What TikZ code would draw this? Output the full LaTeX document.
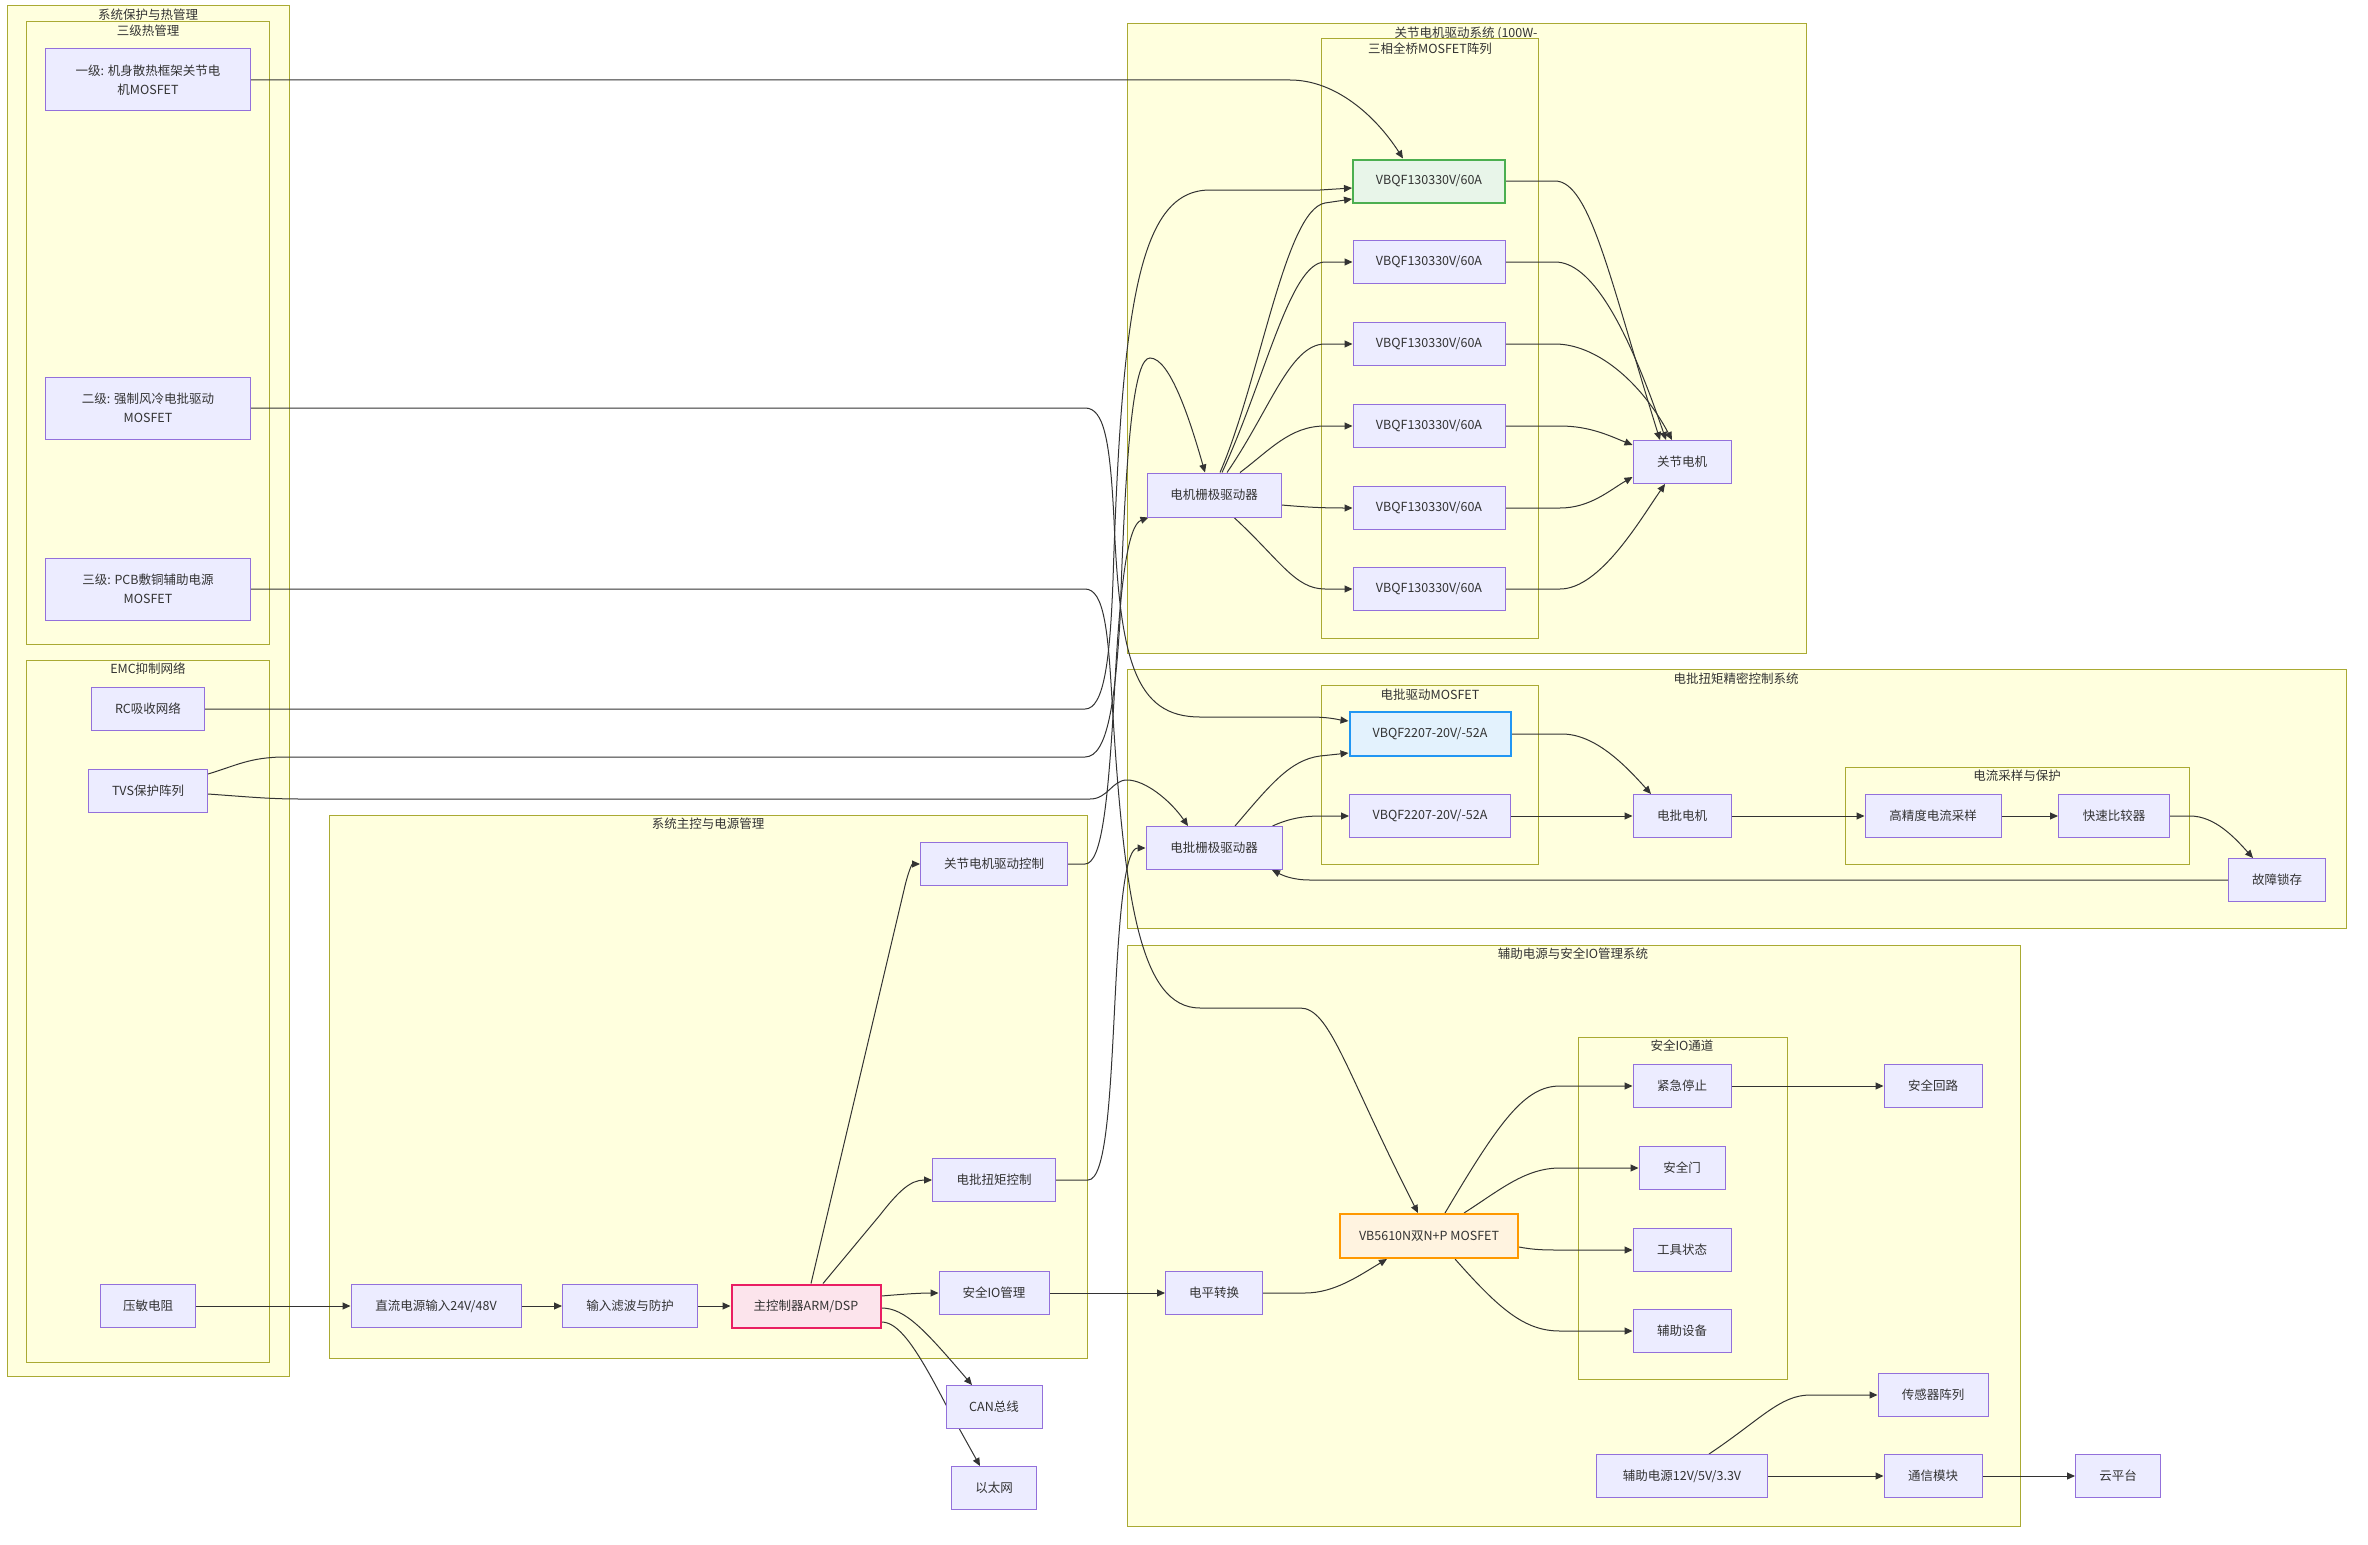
\documentclass[tikz,border=0pt]{standalone}
\usepackage{fontspec}
\setmainfont{Noto Sans CJK SC}
\usetikzlibrary{arrows.meta}
\definecolor{clfill}{HTML}{FFFFDE}
\definecolor{clline}{HTML}{AAAA33}
\definecolor{nfill}{HTML}{ECECFF}
\definecolor{nline}{HTML}{9370DB}
\definecolor{txt}{HTML}{333333}
\definecolor{gfill}{HTML}{E8F5E9}
\definecolor{gline}{HTML}{4CAF50}
\definecolor{bfill}{HTML}{E3F2FD}
\definecolor{bline}{HTML}{2196F3}
\definecolor{ofill}{HTML}{FFF3E0}
\definecolor{oline}{HTML}{FF9800}
\definecolor{pfill}{HTML}{FCE4EC}
\definecolor{pline}{HTML}{E91E63}
\newcommand{\myfs}{\fontsize{12.5}{19}\selectfont}
\pgfdeclarelayer{bg}
\pgfdeclarelayer{edges}
\pgfsetlayers{bg,edges,main}
\tikzset{
  box/.style={draw=nline, fill=nfill, line width=1pt, minimum height=43pt, inner sep=2pt, text=txt, font=\myfs, align=center},
  tall/.style={minimum height=62pt},
  hlgreen/.style={draw=gline, fill=gfill, line width=2pt},
  hlblue/.style={draw=bline, fill=bfill, line width=2pt},
  hlorange/.style={draw=oline, fill=ofill, line width=2pt},
  hlpink/.style={draw=pline, fill=pfill, line width=2pt},
  clus/.style={draw=clline, fill=clfill, line width=1pt},
  ctitle/.style={text=txt, font=\myfs, inner sep=0pt},
  conn/.style={draw=txt, line width=1pt, -{Triangle[length=8pt,width=7pt]}},
}
\begin{document}
\begin{tikzpicture}[x=1pt,y=-1pt]
\useasboundingbox (0,0) rectangle (2368,1544);
% ---------- clusters ----------
\begin{pgfonlayer}{bg}
\fill[white] (0,0) rectangle (2368,1544);
\draw[clus] (7,6) rectangle (289,1376);
\node[ctitle] (tProt) at (148,15) {系统保护与热管理};
\draw[clus] (26,22) rectangle (269,644);
\node[ctitle] (tHeat) at (148,31) {三级热管理};
\draw[clus] (26,660) rectangle (269,1362);
\node[ctitle] (tEmc) at (148,669) {EMC抑制网络};
\draw[clus] (329,815) rectangle (1087,1358);
\node[ctitle] (tMain) at (708,824) {系统主控与电源管理};
\draw[clus] (1127,24) rectangle (1806,653);
\node[ctitle] (tJoint) at (1466,33) {关节电机驱动系统 (100W-};
\draw[clus] (1321,39) rectangle (1538,638);
\node[ctitle] (tBridge) at (1430,49) {三相全桥MOSFET阵列};
\draw[clus] (1127,669) rectangle (2346,928);
\node[ctitle] (tScrew) at (1736,679) {电批扭矩精密控制系统};
\draw[clus] (1321,685) rectangle (1538,864);
\node[ctitle] (tSmos) at (1430,695) {电批驱动MOSFET};
\draw[clus] (1845,767) rectangle (2189,864);
\node[ctitle] (tSample) at (2017,776) {电流采样与保护};
\draw[clus] (1127,945) rectangle (2020,1526);
\node[ctitle] (tAux) at (1573,954) {辅助电源与安全IO管理系统};
\draw[clus] (1578,1037) rectangle (1787,1379);
\node[ctitle] (tSafe) at (1682,1046) {安全IO通道};
\end{pgfonlayer}
% ---------- nodes ----------
\node[box, tall, minimum width=205pt] (T1) at (148,80) {一级: 机身散热框架关节电\\机MOSFET};
\node[box, tall, minimum width=205pt] (T2) at (148,408) {二级: 强制风冷电批驱动\\MOSFET};
\node[box, tall, minimum width=205pt] (T3) at (148,589) {三级: PCB敷铜辅助电源\\MOSFET};
\node[box, minimum width=113pt] (RC) at (148,709) {RC吸收网络};
\node[box, minimum width=119pt] (TVS) at (148,791) {TVS保护阵列};
\node[box, minimum width=95pt] (VAR) at (148,1306) {压敏电阻};
\node[box, minimum width=170pt] (DC) at (436,1306) {直流电源输入24V/48V};
\node[box, minimum width=135pt] (FIL) at (630,1306) {输入滤波与防护};
\node[box, hlpink, minimum width=149pt] (MCU) at (806,1306) {主控制器ARM/DSP};
\node[box, minimum width=147pt] (JMC) at (994,864) {关节电机驱动控制};
\node[box, minimum width=123pt] (SDC) at (994,1180) {电批扭矩控制};
\node[box, minimum width=110pt] (SIO) at (994,1293) {安全IO管理};
\node[box, minimum width=96pt] (CAN) at (994,1407) {CAN总线};
\node[box, minimum width=85pt] (ETH) at (994,1488) {以太网};
\node[box, hlgreen, minimum width=152pt] (Q1) at (1429,181) {VBQF130330V/60A};
\node[box, minimum width=152pt] (Q2) at (1429,262) {VBQF130330V/60A};
\node[box, minimum width=152pt] (Q3) at (1429,344) {VBQF130330V/60A};
\node[box, minimum width=152pt] (Q4) at (1429,426) {VBQF130330V/60A};
\node[box, minimum width=152pt] (Q5) at (1429,508) {VBQF130330V/60A};
\node[box, minimum width=152pt] (Q6) at (1429,589) {VBQF130330V/60A};
\node[box, minimum width=134pt, minimum height=44pt] (MGD) at (1214,495) {电机栅极驱动器};
\node[box, minimum width=98pt] (JM) at (1682,462) {关节电机};
\node[box, hlblue, minimum width=161pt, minimum height=44pt] (S1) at (1430,734) {VBQF2207-20V/-52A};
\node[box, minimum width=161pt] (S2) at (1430,816) {VBQF2207-20V/-52A};
\node[box, minimum width=136pt] (SGD) at (1214,848) {电批栅极驱动器};
\node[box, minimum width=98pt] (SM) at (1682,816) {电批电机};
\node[box, minimum width=136pt] (CS) at (1933,816) {高精度电流采样};
\node[box, minimum width=111pt] (CMP) at (2114,816) {快速比较器};
\node[box, minimum width=97pt] (FL) at (2277,880) {故障锁存};
\node[box, hlorange, minimum width=178pt, minimum height=44pt] (VB) at (1429,1236) {VB5610N双N+P MOSFET};
\node[box, minimum width=97pt] (LS) at (1214,1293) {电平转换};
\node[box, minimum width=98pt] (ES) at (1682,1086) {紧急停止};
\node[box, minimum width=86pt] (SG) at (1682,1168) {安全门};
\node[box, minimum width=98pt] (TS) at (1682,1250) {工具状态};
\node[box, minimum width=98pt] (AD) at (1682,1331) {辅助设备};
\node[box, minimum width=98pt] (SL) at (1933,1086) {安全回路};
\node[box, minimum width=110pt] (SA) at (1933,1395) {传感器阵列};
\node[box, minimum width=171pt] (AUX) at (1682,1476) {辅助电源12V/5V/3.3V};
\node[box, minimum width=98pt] (COM) at (1933,1476) {通信模块};
\node[box, minimum width=85pt] (CLOUD) at (2118,1476) {云平台};
% ---------- connectors ----------
\begin{pgfonlayer}{edges}
\draw[conn] (T1.east) -- (1290,80) .. controls (1335,80) and (1375,115) .. ([xshift=-26pt]Q1.north);
\draw[conn] (T2.east) -- (1085,408) .. controls (1104,408) and (1110,440) .. (1114,520) .. controls (1120,660) and (1135,717) .. (1200,717) -- (1310,717) .. controls (1330,717) and (1340,720) .. ([yshift=13pt]S1.west);
\draw[conn] (T3.east) -- (1085,589) .. controls (1104,589) and (1108,630) .. (1112,700) .. controls (1124,900) and (1140,1008) .. (1200,1008) -- (1300,1008) .. controls (1330,1008) and (1345,1070) .. ([xshift=-11pt]VB.north);
\draw[conn] (RC.east) -- (1085,709) .. controls (1104,709) and (1110,660) .. (1113,580) .. controls (1122,300) and (1140,190) .. (1210,190) -- (1320,190) -- ([yshift=-7pt]Q1.west);
\draw[conn] ([yshift=17pt]TVS.east) .. controls (235,766) and (250,757) .. (285,757) -- (1085,757) .. controls (1108,757) and (1115,700) .. (1120,620) .. controls (1126,430) and (1135,358) .. (1150,358) .. controls (1170,358) and (1190,420) .. ([xshift=-9pt]MGD.north);
\draw[conn] ([yshift=-3pt]TVS.east) .. controls (250,797) and (270,799) .. (300,799) -- (1090,799) .. controls (1108,799) and (1112,780) .. (1127,780) .. controls (1145,780) and (1170,800) .. ([xshift=-26pt]SGD.north);
\draw[conn] (JMC.east) -- (1085,864) .. controls (1102,864) and (1108,800) .. (1114,700) .. controls (1120,580) and (1128,525) .. ([xshift=2pt]MGD.south west);
\draw[conn] (SDC.east) -- (1088,1180) .. controls (1106,1180) and (1110,1100) .. (1115,1000) .. controls (1120,900) and (1126,848) .. (SGD.west);
% gate driver to bridge
\draw[conn] ([xshift=6pt]MGD.north) .. controls (1260,380) and (1285,210) .. (1325,203) -- ([yshift=-18pt]Q1.west);
\draw[conn] ([xshift=8pt]MGD.north) .. controls (1265,380) and (1290,262) .. (1325,262) -- (Q2.west);
\draw[conn] ([xshift=13pt]MGD.north) .. controls (1270,410) and (1290,344) .. (1325,344) -- (Q3.west);
\draw[conn] ([xshift=26pt]MGD.north) .. controls (1270,450) and (1290,426) .. (1325,426) -- (Q4.west);
\draw[conn] ([yshift=-10pt]MGD.east) .. controls (1305,507) and (1320,508) .. (Q5.west);
\draw[conn] ([xshift=20pt]MGD.south) .. controls (1280,560) and (1295,589) .. (1325,589) -- (Q6.west);
% bridge to motor
\draw[conn] (Q1.east) -- (1555,181) .. controls (1590,181) and (1610,280) .. ([xshift=-22pt]JM.north);
\draw[conn] (Q2.east) -- (1555,262) .. controls (1590,262) and (1625,320) .. ([xshift=-16pt]JM.north);
\draw[conn] (Q3.east) -- (1555,344) .. controls (1595,344) and (1640,380) .. ([xshift=-10pt]JM.north);
\draw[conn] (Q4.east) -- (1560,426) .. controls (1590,426) and (1610,436) .. ([yshift=17pt]JM.west);
\draw[conn] (Q5.east) -- (1560,508) .. controls (1590,508) and (1610,490) .. ([yshift=-15pt]JM.west);
\draw[conn] (Q6.east) -- (1560,589) .. controls (1600,589) and (1640,520) .. ([xshift=-17pt]JM.south);
% screwdriver
\draw[conn] ([xshift=21pt]SGD.north) .. controls (1270,785) and (1290,760) .. (1320,756) -- ([yshift=-19pt]S1.west);
\draw[conn] ([xshift=-10pt]SGD.north east) .. controls (1290,818) and (1305,816) .. (1320,816) -- (S2.west);
\draw[conn] (S1.east) -- (1562,734) .. controls (1595,734) and (1625,765) .. ([xshift=-31pt]SM.north);
\draw[conn] (S2.east) -- (SM.west);
\draw[conn] (SM.east) -- (CS.west);
\draw[conn] (CS.east) -- (CMP.west);
\draw[conn] (CMP.east) -- (2190,816) .. controls (2215,816) and (2235,838) .. ([xshift=-24pt]FL.north);
\draw[conn] (FL.west) -- (1310,880) .. controls (1292,880) and (1282,875) .. ([xshift=58pt]SGD.south);
% main control
\draw[conn] (VAR.east) -- (DC.west);
\draw[conn] (DC.east) -- (FIL.west);
\draw[conn] (FIL.east) -- (MCU.west);
\draw[conn] ([xshift=5pt]MCU.north) -- (904,890) .. controls (908,872) and (912,864) .. (JMC.west);
\draw[conn] ([xshift=17pt]MCU.north) -- (880,1215) .. controls (898,1192) and (910,1180) .. (SDC.west);
\draw[conn] ([yshift=10pt]MCU.east) .. controls (905,1294) and (920,1293) .. (SIO.west);
\draw[conn] ([yshift=-2pt]MCU.east) .. controls (905,1308) and (925,1330) .. ([xshift=-22pt]CAN.north);
\draw[conn] ([yshift=-16pt]MCU.east) .. controls (898,1322) and (915,1345) .. (945,1403) -- ([xshift=-14pt]ETH.north);
% aux and safety
\draw[conn] (SIO.east) -- (LS.west);
\draw[conn] (LS.east) -- (1305,1293) .. controls (1335,1293) and (1360,1275) .. ([xshift=-42pt]VB.south);
\draw[conn] ([xshift=16pt]VB.north) .. controls (1500,1120) and (1525,1086) .. (1560,1086) -- (ES.west);
\draw[conn] ([xshift=35pt]VB.north) .. controls (1500,1190) and (1525,1168) .. (1560,1168) -- (SG.west);
\draw[conn] ([yshift=-11pt]VB.east) .. controls (1535,1250) and (1545,1250) .. (1560,1250) -- (TS.west);
\draw[conn] ([xshift=26pt]VB.south) .. controls (1500,1310) and (1525,1331) .. (1560,1331) -- (AD.west);
\draw[conn] (ES.east) -- (SL.west);
\draw[conn] ([xshift=27pt]AUX.north) .. controls (1760,1420) and (1780,1395) .. (1810,1395) -- (SA.west);
\draw[conn] (AUX.east) -- (COM.west);
\draw[conn] (COM.east) -- (CLOUD.west);
\end{pgfonlayer}
\end{tikzpicture}
\end{document}
